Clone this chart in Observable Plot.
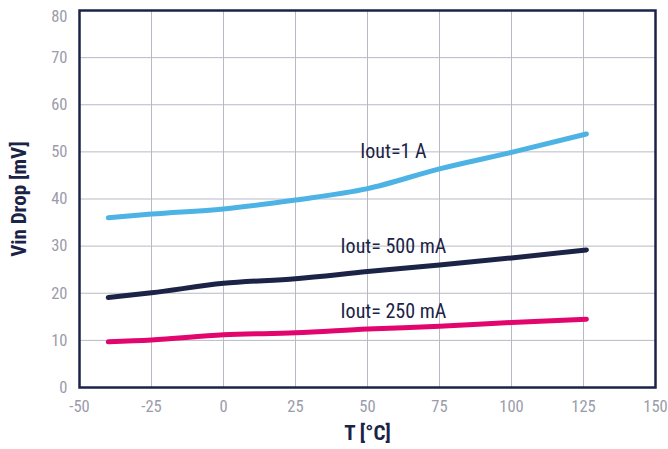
<!DOCTYPE html>
<html><head><meta charset="utf-8">
<script src="https://cdn.jsdelivr.net/npm/d3@7"></script>
<script src="https://cdn.jsdelivr.net/npm/@observablehq/plot@0.6"></script>
<style>
body{margin:0;background:#fff;}
svg{font-family:"Liberation Sans Narrow","Roboto Condensed",Roboto,sans-serif;}
</style>
</head><body><div id="chart"></div>
<script>
const temps = [-40, -25, 0, 25, 50, 75, 100, 126];
const iout1A = [36.0, 36.8, 37.9, 39.8, 42.2, 46.4, 49.9, 53.8];
const iout500 = [19.1, 20.1, 22.1, 23.1, 24.6, 26.0, 27.5, 29.2];
const iout250 = [9.7, 10.1, 11.2, 11.6, 12.4, 13.0, 13.8, 14.5];
const seriesNames = ["Iout=1 A", "Iout= 500 mA", "Iout= 250 mA"];
const seriesColors = ["#4cb3e4", "#1b2347", "#e2056d"];
const labelPos = [[59, 50.0], [59, 30.0], [59, 16.2]];
const xTicks = [-50, -25, 0, 25, 50, 75, 100, 125, 150];
const yTicks = [0, 10, 20, 30, 40, 50, 60, 70, 80];

const allSeries = [iout1A, iout500, iout250];
const data = [];
allSeries.forEach((vals, i) => temps.forEach((t, j) => data.push({s: seriesNames[i], t, v: vals[j]})));
const labels = seriesNames.map((s, i) => ({s, t: labelPos[i][0], v: labelPos[i][1]}));

const navy = "#1b2347";
const tickColor = "#9a9cab";
const fmt = d => String(d);
const chart = Plot.plot({
  width: 668, height: 449,
  marginLeft: 79, marginRight: 13, marginTop: 10, marginBottom: 62,
  style: {fontFamily: '"Liberation Sans Narrow","Roboto Condensed",Roboto,sans-serif', background: "#fff"},
  x: {domain: [-50, 150]},
  y: {domain: [0, 80]},
  color: {domain: seriesNames, range: seriesColors},
  marks: [
    Plot.gridX(xTicks, {stroke: "#b9b9c6", strokeOpacity: 1, strokeWidth: 1}),
    Plot.gridY(yTicks, {stroke: "#b9b9c6", strokeOpacity: 1, strokeWidth: 1}),
    Plot.axisX(xTicks, {tickSize: 0, tickPadding: 13, fontSize: 16.5, color: tickColor, tickFormat: fmt, label: "T [°C]", labelAnchor: "center", labelArrow: "none", labelOffset: 52}),
    Plot.axisY(yTicks.slice(0, -1), {tickSize: 0, tickPadding: 12, fontSize: 16.5, color: tickColor, tickFormat: fmt, label: "Vin Drop [mV]", labelAnchor: "center", labelArrow: "none", labelOffset: 68}),
    Plot.axisY(yTicks.slice(-1), {tickSize: 0, tickPadding: 12, fontSize: 16.5, color: tickColor, tickFormat: fmt, label: null, dy: 6}),
    Plot.line(data, {x: "t", y: "v", z: "s", stroke: "s", strokeWidth: 5, curve: "monotone-x", strokeLinecap: "round"}),
    Plot.text(labels, {x: "t", y: "v", text: "s", fill: navy, fontSize: 20, textAnchor: "middle"}),
    Plot.frame({stroke: navy, strokeWidth: 2.5})
  ]
});
chart.querySelectorAll('[aria-label="x-axis label"] text, [aria-label="y-axis label"] text').forEach(t => {
  t.setAttribute("fill", navy); t.setAttribute("font-size", "21"); t.setAttribute("font-weight", "bold");
});
document.getElementById("chart").appendChild(chart);
</script></body></html>
